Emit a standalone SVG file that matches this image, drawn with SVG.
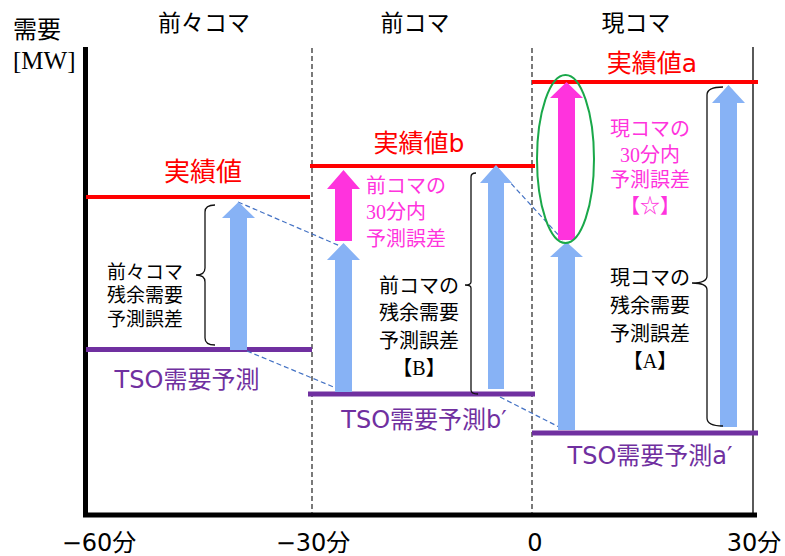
<svg xmlns="http://www.w3.org/2000/svg" width="785" height="556" viewBox="0 0 785 556">
<style>
.cjk{font-family:"DejaVu Sans","Noto Sans CJK JP",sans-serif;}
.ser{font-family:"Liberation Serif","Noto Sans CJK JP",serif;}
.blk{fill:#000;}
.red{fill:#FF0000;}
.pur{fill:#7030A0;}
.pink{fill:#FF33DD;}
.blue{fill:#87B2F5;}
.mag{fill:#FF33DD;}
.dash{stroke:#4472C4;stroke-width:1.2;stroke-dasharray:5 3;fill:none;}
.vdash{stroke:#222;stroke-width:1.2;stroke-dasharray:5 3;fill:none;}
.brace{stroke:#111;stroke-width:1.3;fill:none;}
</style>
<rect width="785" height="556" fill="#fff"/>
<g id="axes">
<line x1="85.5" y1="47" x2="85.5" y2="517" stroke="#000" stroke-width="5"/>
<line x1="83" y1="515" x2="757" y2="515" stroke="#000" stroke-width="5"/>
<line x1="312" y1="48" x2="312" y2="513" class="vdash"/>
<line x1="532" y1="48" x2="532" y2="513" class="vdash"/>
<line x1="753" y1="47" x2="753" y2="513" stroke="#000" stroke-width="1.3"/>
</g>
<g id="levels">
<line x1="86" y1="197" x2="310" y2="197" stroke="#FF0000" stroke-width="4"/>
<line x1="310" y1="166" x2="535" y2="166" stroke="#FF0000" stroke-width="4"/>
<line x1="532" y1="82" x2="758" y2="82" stroke="#FF0000" stroke-width="4"/>
<line x1="86" y1="349.5" x2="312" y2="349.5" stroke="#7030A0" stroke-width="5"/>
<line x1="308" y1="394" x2="535" y2="394" stroke="#7030A0" stroke-width="5"/>
<line x1="532" y1="433" x2="758" y2="433" stroke="#7030A0" stroke-width="5"/>
</g>
<g id="connectors">
<line x1="238" y1="202" x2="340" y2="246" class="dash"/>
<line x1="247" y1="351" x2="336" y2="388" class="dash"/>
<line x1="495" y1="166" x2="563" y2="240" class="dash"/>
<line x1="500" y1="397" x2="563" y2="429" class="dash"/>
</g>
<g id="arrow-prev2">
<polygon class="blue" points="230,350 230,218 222,218 238.5,202 255,218 247,218 247,350"/>
</g>
<g id="arrow-prev-blue">
<polygon class="blue" points="335,392 335,260 327,260 343.5,243 360,260 352,260 352,392"/>
</g>
<g id="arrow-prev-mag">
<polygon class="mag" points="335,241 335,189 327,189 343.5,170 360,189 352,189 352,241"/>
</g>
<g id="arrow-prev-total">
<polygon class="blue" points="488,389 488,183 480,183 496,165 512,183 504,183 504,389"/>
</g>
<g id="arrow-cur-blue">
<polygon class="blue" points="558,430 558,257 550,257 566.5,242 583,257 575,257 575,430"/>
</g>
<g id="arrow-cur-mag">
<polygon class="mag" points="558,240 558,98 550,98 566.5,82 583,98 575,98 575,240"/>
</g>
<g id="arrow-cur-total">
<polygon class="blue" points="720,427 720,103 712,103 728.5,85 745,103 737,103 737,427"/>
</g>
<g id="ellipse-star">
<ellipse cx="565.5" cy="159" rx="28.5" ry="84" fill="none" stroke="#1AA84A" stroke-width="2"/>
</g>
<g id="braces">
<path class="brace" d="M215,205 Q205,205 205,212 L205,268 Q205,275 196,275 Q205,275 205,282 L205,338 Q205,345 215,345"/>
<path class="brace" d="M476,173 Q471,173 471,177 L471,282 Q471,285 465,285 Q471,285 471,288 L471,390 Q471,394 478,394"/>
<path class="brace" d="M723,87 Q707,87 707,95 L707,276 Q707,283 692,283 Q707,283 707,290 L707,418 Q707,426 723,426"/>
</g>
<g id="labels">
<text x="13" y="38" font-size="24" class="cjk blk">需要</text>
<text x="13" y="69" font-size="25" class="ser blk">[MW]</text>
<text x="204" y="31" font-size="23" text-anchor="middle" class="cjk blk">前々コマ</text>
<text x="415" y="31" font-size="23" text-anchor="middle" class="cjk blk">前コマ</text>
<text x="636" y="31" font-size="23" text-anchor="middle" class="cjk blk">現コマ</text>
<text x="203" y="181" font-size="26" text-anchor="middle" class="cjk red">実績値</text>
<text x="419" y="152" font-size="25" text-anchor="middle" class="cjk red">実績値b</text>
<text x="652" y="72" font-size="25" text-anchor="middle" class="cjk red">実績値a</text>
<text x="187" y="388" font-size="24" text-anchor="middle" class="cjk pur">TSO需要予測</text>
<text x="424" y="428" font-size="24" text-anchor="middle" class="cjk pur">TSO需要予測b′</text>
<text x="650" y="464" font-size="24" text-anchor="middle" class="cjk pur">TSO需要予測a′</text>
<text x="99" y="551" font-size="24" text-anchor="middle" class="cjk blk">−60分</text>
<text x="313" y="551" font-size="24" text-anchor="middle" class="cjk blk">−30分</text>
<text x="535" y="551" font-size="24" text-anchor="middle" class="cjk blk">0</text>
<text x="754" y="551" font-size="24" text-anchor="middle" class="cjk blk">30分</text>
</g>
<g id="note-prev-mag" class="ser pink" font-size="20">
<text x="366" y="193">前コマの</text>
<text x="366" y="219">30分内</text>
<text x="366" y="246">予測誤差</text>
</g>
<g id="note-cur-mag" class="ser pink" font-size="20" text-anchor="middle">
<text x="650" y="136">現コマの</text>
<text x="650" y="162">30分内</text>
<text x="650" y="187">予測誤差</text>
<text x="650" y="213">【☆】</text>
</g>
<g id="note-prev2" class="ser blk" font-size="19" text-anchor="middle">
<text x="145" y="279">前々コマ</text>
<text x="145" y="302">残余需要</text>
<text x="145" y="326">予測誤差</text>
</g>
<g id="note-prev" class="ser blk" font-size="20" text-anchor="middle">
<text x="419" y="293">前コマの</text>
<text x="419" y="320">残余需要</text>
<text x="419" y="348">予測誤差</text>
<text x="419" y="375">【B】</text>
</g>
<g id="note-cur" class="ser blk" font-size="20" text-anchor="middle">
<text x="650" y="285">現コマの</text>
<text x="650" y="313">残余需要</text>
<text x="650" y="341">予測誤差</text>
<text x="650" y="368">【A】</text>
</g>
</svg>
